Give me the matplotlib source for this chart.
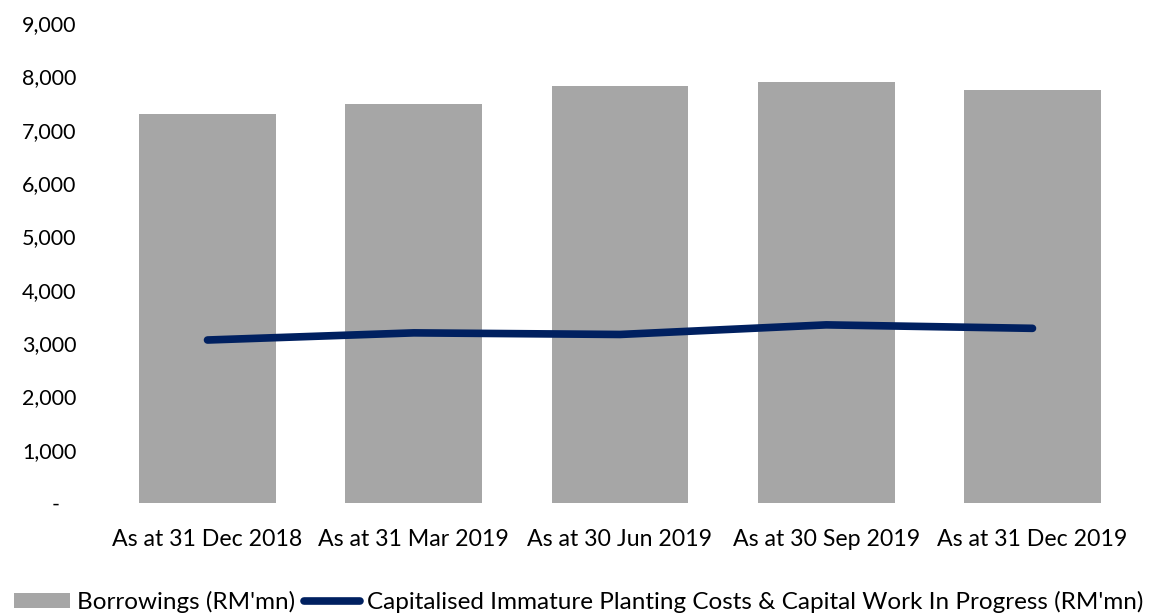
import matplotlib
matplotlib.use("Agg")
import matplotlib.pyplot as plt
from matplotlib.ticker import FuncFormatter

categories = ["As at 31 Dec 2018", "As at 31 Mar 2019", "As at 30 Jun 2019",
              "As at 30 Sep 2019", "As at 31 Dec 2019"]
borrowings = [7300, 7475, 7820, 7895, 7740]
capex = [3056, 3190, 3160, 3340, 3275]

plt.rcParams['font.family'] = ['Lato', 'DejaVu Sans']

fig = plt.figure(figsize=(11.57, 6.16), dpi=100)
ax = fig.add_axes([104.4/1157, 1-503/616, (1135.6-104.4)/1157, (503-23)/616])

x = list(range(len(categories)))
bars = ax.bar(x, borrowings, width=0.664, color="#A6A6A6", label="Borrowings (RM'mn)")
line, = ax.plot(x, capex, color="#002060", linewidth=5.5, solid_capstyle="round",
                label="Capitalised Immature Planting Costs & Capital Work In Progress (RM'mn)")

ax.set_xlim(-0.5, len(categories) - 0.5)
ax.set_ylim(0, 9000)
ax.set_yticks(range(0, 9001, 1000))
ax.yaxis.set_major_formatter(FuncFormatter(lambda v, p: "-   " if v == 0 else f"{int(v):,}"))
ax.set_xticks(x)
ax.set_xticklabels(categories)
for s in ax.spines.values():
    s.set_visible(False)
ax.tick_params(axis='both', length=0, colors="black")
ax.tick_params(axis='y', pad=20, labelsize=15.5)
ax.tick_params(axis='x', pad=19, labelsize=16.7)

leg = fig.legend([bars, line], [bars.get_label(), line.get_label()],
                 loc="center", bbox_to_anchor=(0.5, 1 - 602/616), ncol=2, frameon=False,
                 fontsize=17.5, handlelength=2.3, handleheight=0.6,
                 handletextpad=0.3, columnspacing=0.35)

fig.savefig("out.png", dpi=100)
